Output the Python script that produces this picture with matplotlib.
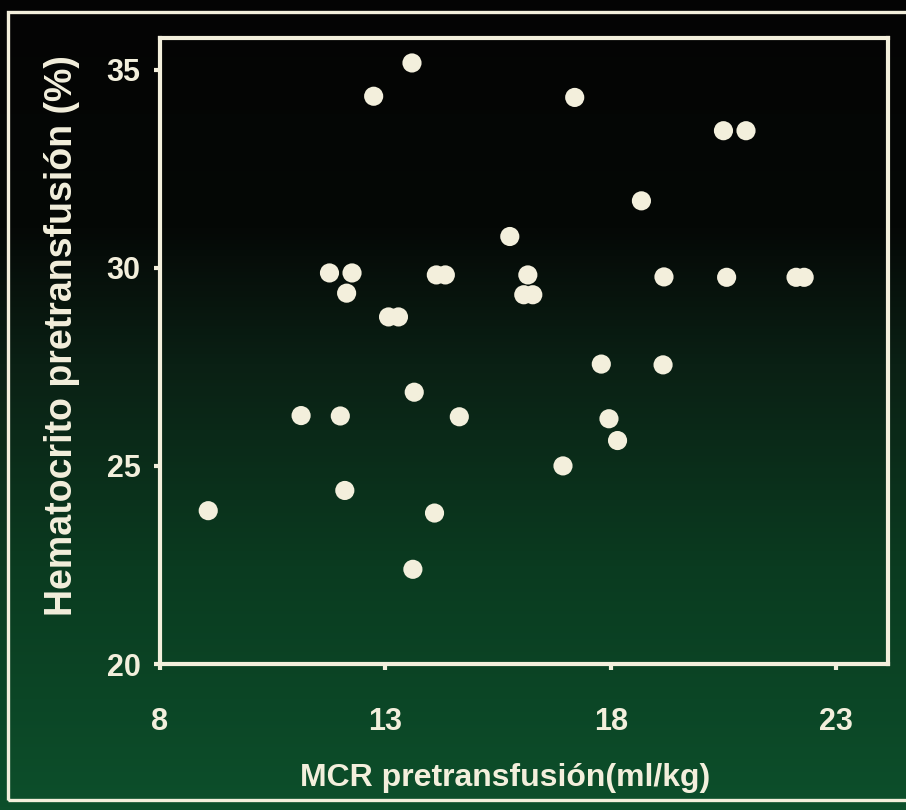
import numpy as np
import matplotlib
matplotlib.use("Agg")
import matplotlib.pyplot as plt
from matplotlib.colors import LinearSegmentedColormap
from matplotlib.patches import Rectangle

# MCR pretransfusion (ml/kg) vs pretransfusion haematocrit (%)
mcr = [9.07, 11.13, 11.76, 12.0, 12.1, 12.26, 12.14, 12.74, 13.59,
       13.07, 13.29, 13.64, 13.61, 14.09, 14.13, 14.33, 14.64,
       15.76, 16.16, 16.07, 16.27, 16.94, 17.2, 17.79, 17.96, 18.15,
       18.68, 19.18, 19.16, 20.5, 21.0, 20.57, 22.11, 22.29]
hct = [23.87, 26.27, 29.87, 26.26, 24.38, 29.87, 29.36, 34.33, 35.17,
       28.76, 28.76, 26.86, 22.39, 23.81, 29.82, 29.82, 26.24,
       30.79, 29.82, 29.32, 29.32, 25.0, 34.3, 27.57, 26.19, 25.64,
       31.69, 29.77, 27.55, 33.46, 33.46, 29.76, 29.76, 29.76]

xticks = [8, 13, 18, 23]
yticks = [20, 25, 30, 35]

ink = '#f3efdc'
tick_font = ['Liberation Sans Narrow', 'Liberation Sans', 'DejaVu Sans']
label_font = ['Liberation Sans', 'DejaVu Sans']

fig = plt.figure(figsize=(9.06, 8.10), dpi=100)

# slide background: black at the top fading into green
bg = fig.add_axes([0, 0, 1, 1], zorder=0)
slide = LinearSegmentedColormap.from_list(
    'slide', [(0.0, '#0d4f2b'), (0.3, '#0a3b20'), (0.55, '#0a2014'),
              (0.72, '#050806'), (1.0, '#040404')])
grad = np.linspace(0, 1, 256).reshape(-1, 1)
bg.imshow(grad, cmap=slide, aspect='auto', origin='lower',
          extent=[0, 1, 0, 1])
bg.axis('off')
bg.add_patch(Rectangle((8 / 906, 10 / 810), 1.1, 788 / 810,
                       transform=bg.transAxes, fill=False,
                       edgecolor=ink, lw=2.4))

ax = fig.add_axes([160 / 906, 1 - 664 / 810, 728 / 906, 626 / 810], zorder=1)
ax.patch.set_alpha(0)
ax.scatter(mcr, hct, s=190, color=ink, edgecolors='none', zorder=3)

ax.set_xlim(8, 24.15)
ax.set_ylim(20, 35.8)
ax.set_xticks(xticks)
ax.set_yticks(yticks)
for sp in ax.spines.values():
    sp.set_color(ink)
    sp.set_linewidth(3)
ax.tick_params(colors=ink, length=4, width=3)
ax.tick_params(axis='x', pad=27)
ax.tick_params(axis='y', pad=10)
for lab in ax.get_xticklabels() + ax.get_yticklabels():
    lab.set_family(tick_font)
    lab.set_fontweight('bold')
    lab.set_fontsize(22)

ax.set_xlabel('MCR pretransfusión(ml/kg)', family=label_font,
              fontweight='bold', fontsize=23, color=ink, va='center')
ax.xaxis.set_label_coords(0.474, -0.182)
ax.set_ylabel('Hematocrito pretransfusión (%)', family=label_font,
              fontweight='bold', fontsize=27, color=ink, va='center')
ax.yaxis.set_label_coords(-0.135, 0.525)

fig.savefig('out.png', dpi=100)
